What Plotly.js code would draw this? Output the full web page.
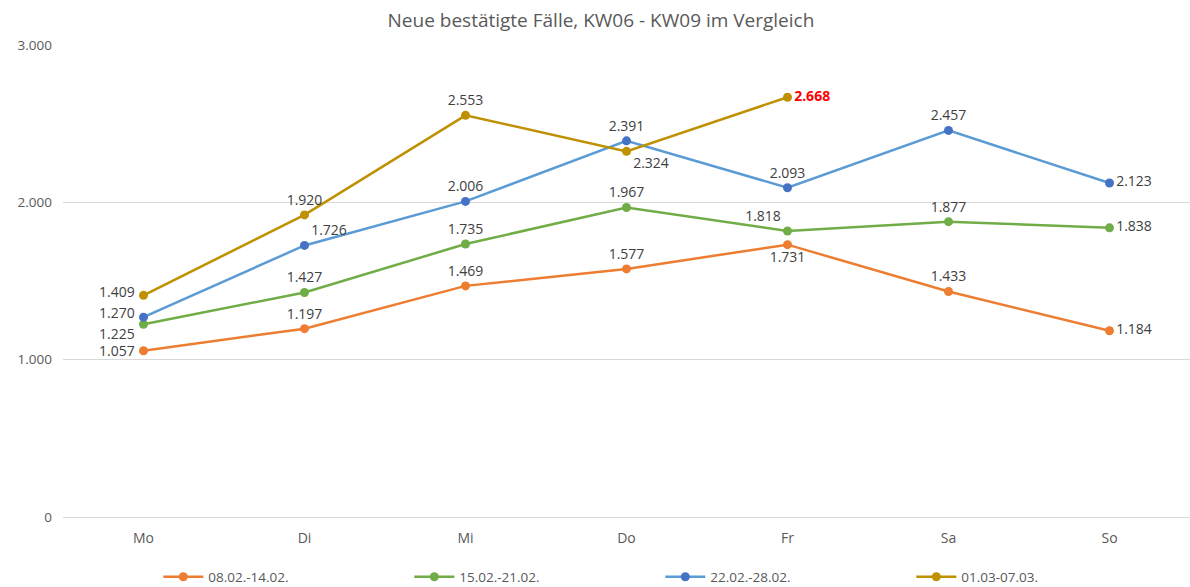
<!DOCTYPE html>
<html><head><meta charset="utf-8">
<script src="https://cdn.plot.ly/plotly-3.0.1.min.js"></script>
<style>html,body{margin:0;padding:0;background:#fff}</style>
</head><body><div id="chart" style="width:1190px;height:587px"></div>
<script>
const days = ["Mo","Di","Mi","Do","Fr","Sa","So"];
const seriesNames = ["08.02.-14.02.","15.02.-21.02.","22.02.-28.02.","01.03-07.03."];
const kw06 = [1057,1197,1469,1577,1731,1433,1184];
const kw07 = [1225,1427,1735,1967,1818,1877,1838];
const kw08 = [1270,1726,2006,2391,2093,2457,2123];
const kw09 = [1409,1920,2553,2324,2668];

const pos06 = ["middle left","top center","top center","top center","bottom center","top center","middle right"];
const pos07 = ["middle left","top center","top center","top center","top left","top center","middle right"];
const pos08 = ["middle left","top right","top center","top center","top center","top center","middle right"];
const pos09 = ["middle left","top center","top center","bottom right","middle right"];
// vertical nudges (px) for the crowded Monday labels, per series
const monShift = [0, -9, 5, 4];

const lineColors = ["#ED7D31","#70AD47","#5B9BD5","#BF9000"];
const markerColors = ["#ED7D31","#70AD47","#4472C4","#BF9000"];
const data = [kw06,kw07,kw08,kw09];
const positions = [pos06,pos07,pos08,pos09];
const fmt = v => v.toLocaleString("de-DE");

const traces = data.map((vals,i)=>{
  const n = vals.length;
  const colors = vals.map((v,j)=> (i===3 && j===n-1) ? "#FF0000" : "#404040");
  const texts = vals.map((v,j)=>{
    if (j===0) return "";
    const s = fmt(v);
    return (i===3 && j===n-1) ? "<b>"+s+"</b>" : s;
  });
  return {
    x: days.slice(0,n), y: vals, name: seriesNames[i],
    type:"scatter", mode:"lines+markers+text",
    line:{color:lineColors[i], width:2.5},
    marker:{color:markerColors[i], size:9},
    text: texts, textposition: positions[i],
    textfont:{family:"Open Sans, sans-serif", size:14, color:colors},
    cliponaxis:false, hoverinfo:"skip"
  };
});

const annotations = data.map((vals,i)=>({
  x: days[0], y: vals[0], xref:"x", yref:"y", text: fmt(vals[0]), showarrow:false,
  xanchor:"right", yanchor:"middle", xshift:-7, yshift: monShift[i],
  font:{family:"Open Sans, sans-serif", size:14, color:"#404040"}
}));

const layout = {
  width:1190, height:587,
  margin:{l:63, r:0, t:45, b:70, autoexpand:false},
  separators:",.",
  paper_bgcolor:"#fff", plot_bgcolor:"#fff",
  font:{family:"Open Sans, sans-serif", color:"#595959", size:13},
  title:{text:"Neue bestätigte Fälle, KW06 - KW09 im Vergleich", x:0.505, xref:"container", xanchor:"center",
         y:0.966, yanchor:"middle", font:{size:19, color:"#595959"}},
  xaxis:{type:"category", range:[-0.5,6.5], showgrid:false, zeroline:false, showline:false,
         ticks:"", tickfont:{size:14,color:"#595959"}, ticklabelstandoff:11},
  yaxis:{range:[0,3000], dtick:1000, tickformat:",d", gridcolor:"#D9D9D9", gridwidth:1,
         zeroline:true, zerolinecolor:"#D9D9D9", showline:false, ticks:"",
         tickfont:{size:13.5,color:"#595959"}, ticklabelstandoff:10},
  annotations: annotations,
  showlegend:true,
  legend:{orientation:"h", x:0.53, xanchor:"center", y:-0.127, yanchor:"middle",
          font:{size:13.5,color:"#595959"}, itemwidth:40, entrywidth:196, entrywidthmode:"pixels"}
};
Plotly.newPlot("chart", traces, layout, {displayModeBar:false, staticPlot:true});
</script></body></html>
